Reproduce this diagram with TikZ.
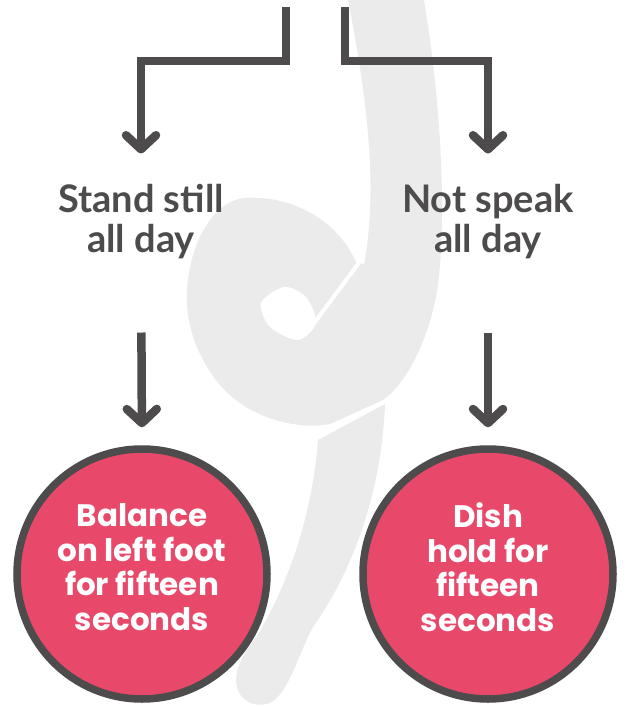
\documentclass[tikz,border=0pt]{standalone}
\usepackage{fontspec}
\setmainfont{Lato}
\newfontfamily\roundfont{Poppins}
\usetikzlibrary{arrows.meta,positioning,calc}

\definecolor{ink}{HTML}{4D4B4C}
\definecolor{rose}{HTML}{E8496A}
\definecolor{ghost}{HTML}{EBEBEB}

\begin{document}
\begin{tikzpicture}[
  x=1pt, y=-1pt,
  arrow/.style={-{Straight Barb[length=14pt, width=30pt, round]}, line width=8.5pt, draw=ink},
  lab/.style={text=ink, align=center, inner sep=0pt, font=\fontsize{38}{40}\selectfont\bfseries},
  bubble/.style={circle, draw=ink, line width=7.5pt, fill=rose, minimum size=250pt, inner sep=0pt,
    text=white, align=center, text depth=14pt, font=\roundfont\fontsize{31}{34.5}\selectfont\bfseries}
]
\useasboundingbox (0,0) rectangle (632,707);

% --- Watermark (light grey hook behind everything) ---------------------------
\fill[ghost] (347,-5) -- (423,-5)
  .. controls (438,80) and (448,200) .. (438,285)
  .. controls (430,340) and (405,385) .. (383,400)
  -- (330,424)
  .. controls (300,430) and (250,420) .. (220,385)
  .. controls (195,355) and (185,320) .. (187,290)
  .. controls (190,240) and (215,200) .. (245,198)
  .. controls (285,195) and (335,215) .. (356,262)
  -- (364,264)
  .. controls (376,200) and (372,120) .. (347,-5) -- cycle;
\fill[white] plot[smooth cycle, tension=0.5] coordinates {
  (261,303) (284,287) (306,297) (316,323) (298,340) (270,327)};
\draw[white, line width=4pt] (312,326) -- (364,256);
\fill[ghost] (318,440) -- (385,404)
  .. controls (382,480) and (360,560) .. (313,627)
  .. controls (300,650) and (290,690) .. (272,702)
  .. controls (255,710) and (235,700) .. (236,678)
  .. controls (238,660) and (250,645) .. (257,636)
  .. controls (285,590) and (312,520) .. (318,440) -- cycle;

% --- Choices -----------------------------------------------------------------
\coordinate (srcL) at (286,7);
\coordinate (srcR) at (345,7);
\node[lab] (stand) at (141,222) {Stand still\\all day};
\node[lab] (speak) at (488,222) {Not speak\\all day};

% --- Outcomes ----------------------------------------------------------------
\node[bubble] (balance) at (142,574) {Balance\\on left foot\\for fifteen\\seconds};
\node[bubble] (dish) at (488,574) {Dish\\hold for\\fifteen\\seconds};

% --- Arrows ------------------------------------------------------------------
\draw[arrow] (srcL) -- ++(0,54) -| ([yshift=31pt]stand.north);
\draw[arrow] (srcR) -- ++(0,54) -| ([yshift=31pt]speak.north);
\draw[arrow, shorten <=73pt, shorten >=18pt] (stand.south) -- (balance.north);
\draw[arrow, shorten <=73pt, shorten >=18pt] (speak.south) -- (dish.north);

\end{tikzpicture}
\end{document}
